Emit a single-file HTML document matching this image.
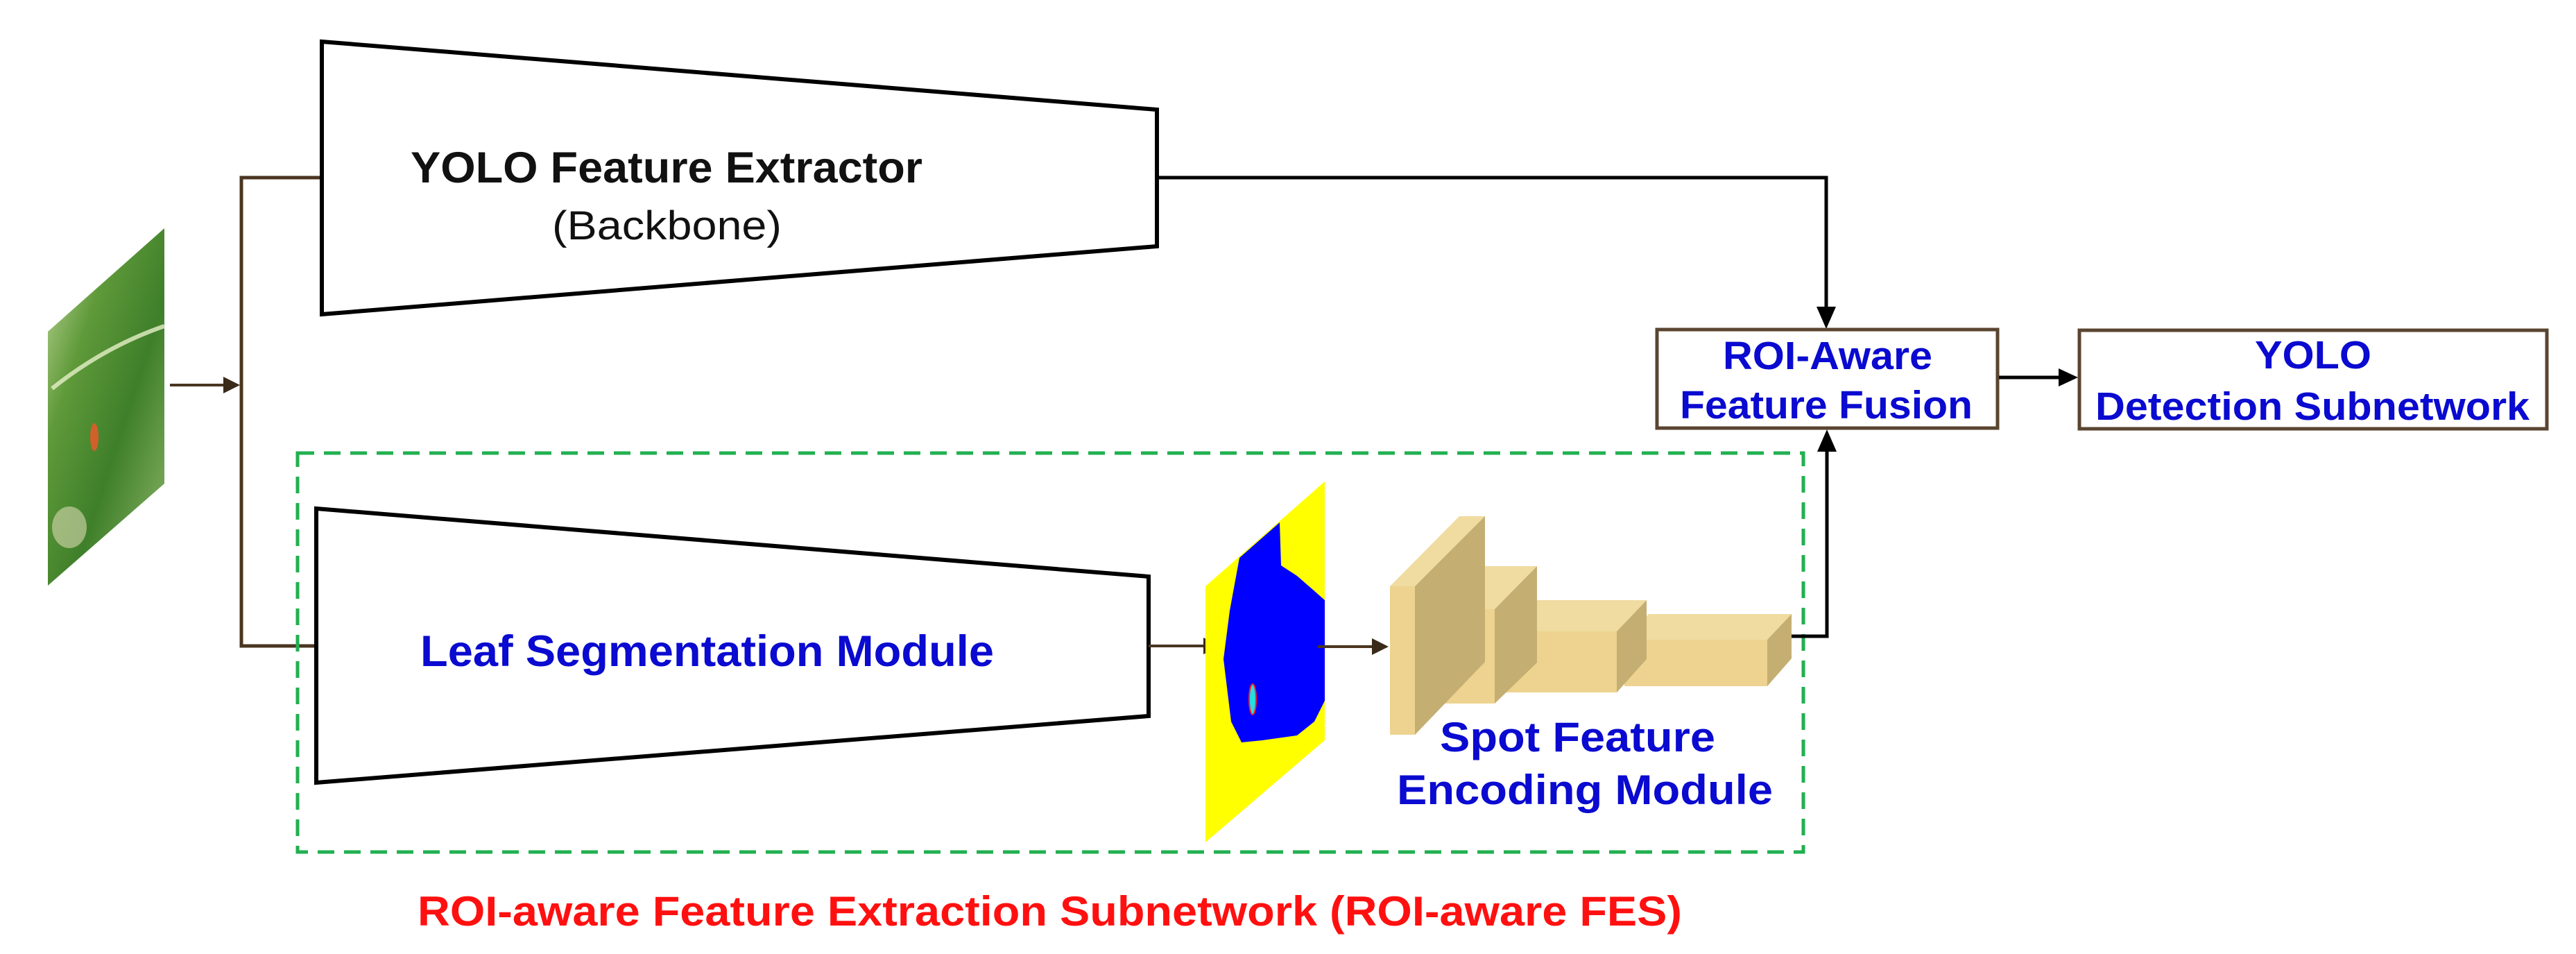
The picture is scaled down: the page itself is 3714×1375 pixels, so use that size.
<!DOCTYPE html>
<html><head><meta charset="utf-8"><style>html,body{margin:0;padding:0;background:#fff}svg{display:block}</style></head>
<body>
<svg width="3714" height="1375" viewBox="0 0 3714 1375" xmlns="http://www.w3.org/2000/svg" font-family="Liberation Sans, Arial, sans-serif">
<defs>
<linearGradient id="leaf" x1="0" y1="0" x2="1" y2="1">
<stop offset="0" stop-color="#c9dca0"/><stop offset="0.3" stop-color="#5f9a3a"/><stop offset="0.6" stop-color="#3f7f2a"/><stop offset="1" stop-color="#8fb86a"/></linearGradient>
</defs>
<!-- leaf input image -->
<polygon points="69,478 237,329 237,697 69,844" fill="url(#leaf)"/>
<path d="M75,560 Q150,500 237,470" stroke="#e6f0c8" stroke-width="6" fill="none" opacity="0.8"/>
<ellipse cx="136" cy="630" rx="6" ry="20" fill="#d2602a"/>
<ellipse cx="100" cy="760" rx="25" ry="30" fill="#d8d8b0" opacity="0.6"/>
<!-- input arrow -->
<line x1="245" y1="555" x2="330" y2="555" stroke="#4a3520" stroke-width="4"/>
<polygon points="346,555 322,543 322,567" fill="#3a2a18"/>
<!-- branch -->
<polyline points="464,256 348,256 348,931 456,931" fill="none" stroke="#4a3520" stroke-width="5"/>
<!-- top trapezoid -->
<polygon points="464,60 1668,158 1668,355 464,453" fill="#fff" stroke="#000" stroke-width="6"/>
<text x="592" y="263" font-size="63" font-weight="bold" fill="#111" textLength="738" lengthAdjust="spacingAndGlyphs">YOLO Feature Extractor</text>
<text x="796" y="345" font-size="58" fill="#111" textLength="331" lengthAdjust="spacingAndGlyphs">(Backbone)</text>
<!-- top connector to fusion -->
<polyline points="1668,256 2633,256 2633,450" fill="none" stroke="#000" stroke-width="5"/>
<polygon points="2633,474 2619,442 2647,442" fill="#000"/>
<!-- green dashed box -->
<rect x="429" y="653" width="2171" height="575" fill="none" stroke="#22b050" stroke-width="5" stroke-dasharray="24,14"/>
<!-- bottom trapezoid -->
<polygon points="456,733 1656,831 1656,1032 456,1128" fill="#fff" stroke="#000" stroke-width="6"/>
<text x="606" y="960" font-size="63" font-weight="bold" fill="#0a0ad0" textLength="827" lengthAdjust="spacingAndGlyphs">Leaf Segmentation Module</text>
<line x1="1656" y1="931" x2="1740" y2="931" stroke="#4a3520" stroke-width="4"/>
<polygon points="1759,931 1735,919 1735,943" fill="#3a2a18"/>
<!-- segmentation image -->
<polygon points="1738,845 1910,694 1910,1067 1738,1214" fill="#ffff00"/>
<path d="M1787,804 L1845,753 L1847,815 L1870,830 L1893,850 L1910,865 L1910,1010 L1895,1040 L1870,1060 L1820,1067 L1790,1070 L1775,1040 L1764,950 L1773,880 Z" fill="#0000ff"/>
<ellipse cx="1806" cy="1008" rx="5" ry="22" fill="#22e0e0" stroke="#ff2020" stroke-width="2"/>
<line x1="1900" y1="932" x2="1982" y2="932" stroke="#4a3520" stroke-width="4"/>
<polygon points="2002,932 1978,920 1978,944" fill="#3a2a18"/>
<!-- encoder blocks -->
<g>
<polygon points="2342,922 2377,885 2583,885 2548,922" fill="#f0dca0"/>
<polygon points="2548,922 2583,885 2583,949 2548,989" fill="#c4ae72"/>
<rect x="2342" y="922" width="206" height="67" fill="#edd38f"/>
<polygon points="2169,910 2212,865 2374,865 2331,910" fill="#f0dca0"/>
<polygon points="2331,910 2374,865 2374,950 2331,998" fill="#c4ae72"/>
<rect x="2169" y="910" width="162" height="88" fill="#edd38f"/>
<polygon points="2080,878 2141,816 2216,816 2155,878" fill="#f0dca0"/>
<polygon points="2155,878 2216,816 2216,955 2155,1014" fill="#c4ae72"/>
<rect x="2080" y="878" width="75" height="136" fill="#edd38f"/>
<polygon points="2004,845 2104,744 2141,744 2040,845" fill="#f0dca0"/>
<polygon points="2040,845 2141,744 2141,954 2040,1059" fill="#c4ae72"/>
<rect x="2004" y="845" width="36" height="214" fill="#edd38f"/>
</g>
<text x="2076" y="1083" font-size="60" font-weight="bold" fill="#0a0ad0" textLength="397" lengthAdjust="spacingAndGlyphs">Spot Feature</text>
<text x="2014" y="1159" font-size="60" font-weight="bold" fill="#0a0ad0" textLength="542" lengthAdjust="spacingAndGlyphs">Encoding Module</text>
<!-- encoder to fusion -->
<polyline points="2583,917 2634,917 2634,645" fill="none" stroke="#000" stroke-width="5"/>
<polygon points="2634,619 2620,651 2648,651" fill="#000"/>
<!-- fusion box -->
<rect x="2389" y="475" width="491" height="142" fill="#fff" stroke="#5a4530" stroke-width="5"/>
<text x="2635" y="532" font-size="57" font-weight="bold" fill="#0a0ad0" text-anchor="middle" textLength="302" lengthAdjust="spacingAndGlyphs">ROI-Aware</text>
<text x="2633" y="603" font-size="57" font-weight="bold" fill="#0a0ad0" text-anchor="middle" textLength="422" lengthAdjust="spacingAndGlyphs">Feature Fusion</text>
<line x1="2882" y1="544" x2="2975" y2="544" stroke="#000" stroke-width="5"/>
<polygon points="2996,544 2968,531 2968,557" fill="#000"/>
<!-- YOLO detection box -->
<rect x="2998" y="476" width="674" height="142" fill="#fff" stroke="#5a4530" stroke-width="5"/>
<text x="3335" y="531" font-size="57" font-weight="bold" fill="#0a0ad0" text-anchor="middle" textLength="168" lengthAdjust="spacingAndGlyphs">YOLO</text>
<text x="3334" y="605" font-size="57" font-weight="bold" fill="#0a0ad0" text-anchor="middle" textLength="626" lengthAdjust="spacingAndGlyphs">Detection Subnetwork</text>
<!-- caption -->
<text x="602" y="1334" font-size="60" font-weight="bold" fill="#ff1010" textLength="1823" lengthAdjust="spacingAndGlyphs">ROI-aware Feature Extraction Subnetwork (ROI-aware FES)</text>
</svg>
</body></html>
